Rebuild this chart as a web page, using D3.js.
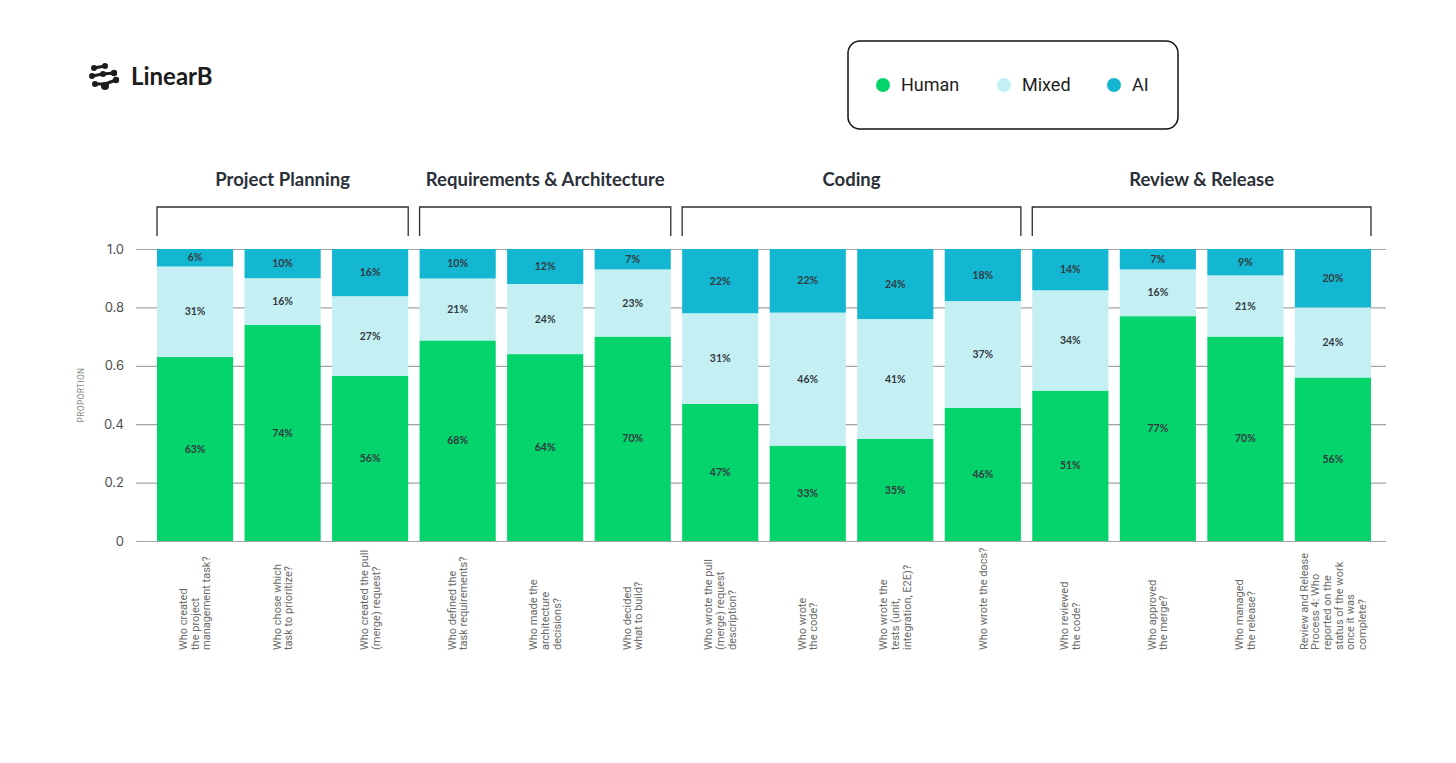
<!DOCTYPE html>
<html>
<head>
<meta charset="utf-8">
<script src="https://cdn.jsdelivr.net/npm/d3@7"></script>
<style>
	body { margin: 0; background: #fff; }
	svg { display: block; }
</style>
</head>
<body>
<svg id="chart"></svg>
<script>
// Data

let questions = [
	['Who created', 'the project', 'management task?'],
	['Who chose which', 'task to prioritize?'],
	['Who created the pull', '(merge) request?'],
	['Who defined the', 'task requirements?'],
	['Who made the', 'architecture', 'decisions?'],
	['Who decided', 'what to build?'],
	['Who wrote the pull', '(merge) request', 'description?'],
	['Who wrote', 'the code?'],
	['Who wrote the', 'tests (unit,', 'integration, E2E)?'],
	['Who wrote the docs?'],
	['Who reviewed', 'the code?'],
	['Who approved', 'the merge?'],
	['Who managed', 'the release?'],
	['Review and Release', 'Process 4: Who', 'reported on the', 'status of the work', 'once it was', 'complete?']
];

let groupNames = ['Project Planning', 'Requirements & Architecture', 'Coding', 'Review & Release'];
let groupSizes = [3, 3, 4, 4];

let human = [63, 74, 56, 68, 64, 70, 47, 33, 35, 46, 51, 77, 70, 56];
let mixed = [31, 16, 27, 21, 24, 23, 31, 46, 41, 37, 34, 16, 21, 24];
let ai    = [ 6, 10, 16, 10, 12,  7, 22, 22, 24, 18, 14,  7,  9, 20];

let seriesKeys = ['Human', 'Mixed', 'AI'];
let yTicks = [0, 0.2, 0.4, 0.6, 0.8, 1.0];

// layout
let W = 1456, H = 763;
let svg = d3.select('svg#chart').attr('width', W).attr('height', H);

let col = d3.scaleOrdinal()
	.domain(seriesKeys)
	.range(['#05d46c', '#c4f0f4', '#13b7d2']);

let rows = questions.map((q, i) => ({ i: i, Human: human[i], Mixed: mixed[i], AI: ai[i] }));

let x = d3.scaleBand()
	.domain(d3.range(questions.length))
	.range([157, 1371])
	.paddingInner(0.13)
	.paddingOuter(0);

let y = d3.scaleLinear()
	.domain([0, 1])
	.range([541, 249]);

// gridlines + y labels
let yAxis = d3.axisLeft(y)
	.tickValues(yTicks)
	.tickSize(-(1386 - 136))
	.tickPadding(12)
	.tickFormat(d => d === 0 ? '0' : d3.format('.1f')(d));

let ga = svg.append('g')
	.attr('transform', 'translate(136,0)')
	.call(yAxis);
ga.select('.domain').remove();
ga.selectAll('.tick line').attr('stroke', '#a3a3a3').attr('stroke-width', 1.2);
ga.selectAll('.tick text')
	.attr('fill', '#505050')
	.style('font-family', 'Inter, sans-serif')
	.style('font-size', '13px');

svg.append('text')
	.attr('transform', 'translate(84,' + ((y(0) + y(1)) / 2) + ') rotate(-90)')
	.attr('text-anchor', 'middle')
	.style('font-family', 'Roboto, sans-serif')
	.style('font-size', '8.5px')
	.style('letter-spacing', '0.3px')
	.attr('fill', '#888')
	.text('PROPORTION');

// stacked bars, normalised to 1
let stack = d3.stack()
	.keys(seriesKeys)
	.offset(d3.stackOffsetExpand);
let series = stack(rows);

let layers = svg.append('g').selectAll('g.layer')
	.data(series)
	.enter()
	.append('g')
	.attr('class', 'layer')
	.attr('fill', d => col(d.key));

layers.selectAll('rect')
	.data(d => d)
	.enter()
	.append('rect')
	.attr('x', d => x(d.data.i))
	.attr('width', x.bandwidth())
	.attr('y', d => y(d[1]))
	.attr('height', d => y(d[0]) - y(d[1]));

let valueLabels = svg.append('g').selectAll('g.vl')
	.data(series)
	.enter()
	.append('g')
	.attr('class', 'vl');

valueLabels.selectAll('text')
	.data(d => d.map(p => ({ p: p, key: d.key })))
	.enter()
	.append('text')
	.attr('x', d => x(d.p.data.i) + x.bandwidth() / 2)
	.attr('y', d => (y(d.p[0]) + y(d.p[1])) / 2)
	.attr('dy', '0.35em')
	.attr('text-anchor', 'middle')
	.style('font-family', 'Lato, sans-serif')
	.style('font-weight', 700)
	.style('font-size', '10.5px')
	.attr('fill', '#333a40')
	.text(d => d.p.data[d.key] + '%');

// x labels, rotated, multi line
let lh = 11.6;
let xl = svg.append('g').selectAll('text.xl')
	.data(questions)
	.enter()
	.append('text')
	.attr('class', 'xl')
	.attr('transform', (d, i) => 'translate(' + (x(i) + x.bandwidth() / 2) + ',650) rotate(-90)')
	.attr('text-anchor', 'start')
	.style('font-family', 'Roboto, sans-serif')
	.style('font-size', '11px')
	.attr('fill', '#6a6a6a');

xl.selectAll('tspan')
	.data(d => d.map((line, k) => ({ line: line, k: k, n: d.length })))
	.enter()
	.append('tspan')
	.attr('x', 0)
	.attr('y', d => (d.k - (d.n - 1) / 2) * lh + 3.8)
	.text(d => d.line);

// group headers + brackets
let groups = [];
let start = 0;
groupNames.forEach((name, g) => {
	groups.push({ name: name, first: start, last: start + groupSizes[g] - 1 });
	start += groupSizes[g];
});

let gh = svg.append('g').selectAll('g.group')
	.data(groups)
	.enter()
	.append('g')
	.attr('class', 'group');

gh.append('path')
	.attr('fill', 'none')
	.attr('stroke', '#2a2f36')
	.attr('stroke-width', 1.3)
	.attr('d', d => {
		let x0 = x(d.first), x1 = x(d.last) + x.bandwidth();
		return 'M' + x0 + ',236V207H' + x1 + 'V236';
	});

gh.append('text')
	.attr('x', d => (x(d.first) + x(d.last) + x.bandwidth()) / 2)
	.attr('y', 186)
	.attr('text-anchor', 'middle')
	.style('font-family', 'Lato, sans-serif')
	.style('font-weight', 700)
	.style('font-size', '18.5px')
	.attr('fill', '#2b3038')
	.text(d => d.name);

// legend
let legend = svg.append('g').attr('transform', 'translate(848,41)');
legend.append('rect')
	.attr('width', 330)
	.attr('height', 88)
	.attr('rx', 12)
	.attr('fill', '#fff')
	.attr('stroke', '#111')
	.attr('stroke-width', 1.5);

let legendX = [35, 156, 266];
let li = legend.selectAll('g.li')
	.data(seriesKeys)
	.enter()
	.append('g')
	.attr('class', 'li')
	.attr('transform', (d, i) => 'translate(' + legendX[i] + ',44)');
li.append('circle').attr('r', 7).attr('fill', d => col(d));
li.append('text')
	.attr('x', 18)
	.attr('dy', '0.35em')
	.style('font-family', 'Roboto, sans-serif')
	.style('font-size', '18px')
	.attr('fill', '#1e1e1e')
	.text(d => d);

// LinearB logo
let logo = svg.append('g').attr('transform', 'translate(90,62)').attr('fill', '#1c1c1c').attr('stroke', '#1c1c1c');
let logoLines = [[4, 6, 15, 4], [2, 14, 13, 12], [13, 12, 24, 11], [5, 22, 15, 22], [15, 22, 26, 18]];
logo.selectAll('line').data(logoLines).enter().append('line')
	.attr('x1', d => d[0]).attr('y1', d => d[1]).attr('x2', d => d[2]).attr('y2', d => d[3])
	.attr('stroke-width', 3);
let logoDots = [[4, 6, 3], [15, 4, 3], [2, 14, 3], [13, 12, 3], [24, 11, 3.2], [5, 22, 3], [15, 24, 4], [26, 18, 3.2]];
logo.selectAll('circle').data(logoDots).enter().append('circle')
	.attr('cx', d => d[0]).attr('cy', d => d[1]).attr('r', d => d[2]).attr('stroke', 'none');
svg.append('text')
	.attr('x', 131)
	.attr('y', 85)
	.style('font-family', 'Lato, sans-serif')
	.style('font-weight', 700)
	.style('font-size', '24px')
	.attr('fill', '#1c1c1c')
	.text('LinearB');
</script>
</body>
</html>
